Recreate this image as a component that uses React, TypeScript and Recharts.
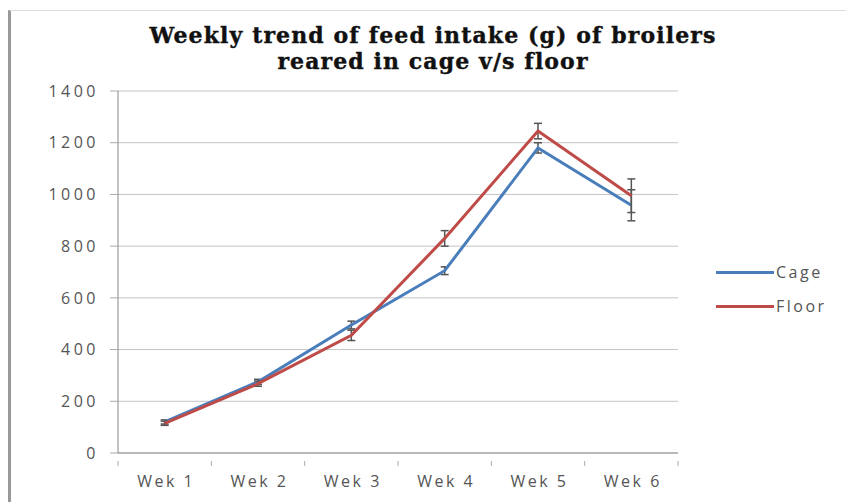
import React from 'react';
import { LineChart, Line, XAxis, YAxis, CartesianGrid, ErrorBar } from 'recharts';

const weeks = ['Wek 1', 'Wek 2', 'Wek 3', 'Wek 4', 'Wek 5', 'Wek 6'];
const cage = [120, 275, 495, 705, 1180, 958];
const floor = [115, 268, 455, 830, 1245, 995];
const cageErr = [8, 10, 15, 15, 20, 60];
const floorErr = [8, 10, 20, 30, 30, 65];
const yTicks = [0, 200, 400, 600, 800, 1000, 1200, 1400];

const data = weeks.map((w, i) => ({
  name: w,
  cage: cage[i],
  floor: floor[i],
  cageErr: cageErr[i],
  floorErr: floorErr[i],
}));

const W = 846;
const H = 502;
const PLOT_LEFT = 118;
const PLOT_RIGHT = 678;
const band = (PLOT_RIGHT - PLOT_LEFT) / weeks.length;

const tickFont = '"Open Sans", "Liberation Sans", sans-serif';

// excel-style category tick: label at the centre, marks at band edges
const XTick = (props: any) => {
  const { x, y, payload, index } = props;
  return (
    <g>
      {index === 0 && <line x1={x - band / 2} x2={x - band / 2} y1={y} y2={y + 5} stroke="#aaa" />}
      <line x1={x + band / 2} x2={x + band / 2} y1={y} y2={y + 5} stroke="#aaa" />
      <text
        x={x + 1.5}
        y={y + 26}
        textAnchor="middle"
        fontSize={16}
        fill="#555"
        fontFamily={tickFont}
        style={{ letterSpacing: 2.5 }}
      >
        {payload.value}
      </text>
    </g>
  );
};

const legendItems = [
  { label: 'Cage', color: '#4A7EBB' },
  { label: 'Floor', color: '#BE4B48' },
];

export default function App() {
  return (
    <div style={{ position: 'absolute', left: 0, top: 0, width: W, height: H, background: '#fff', overflow: 'hidden' }}>
      <div style={{ position: 'absolute', left: 8, top: 10, width: W, height: H, borderLeft: '3px solid #999', borderTop: '1px solid #ddd' }} />
      <div
        style={{
          position: 'absolute',
          left: 0,
          top: 22,
          width: 866,
          textAlign: 'center',
          fontFamily: '"DejaVu Serif", "Liberation Serif", serif',
          fontWeight: 700,
          fontSize: 22,
          lineHeight: '26px',
          letterSpacing: 1.1,
          WebkitTextStroke: '0.4px #111',
          color: '#111',
        }}
      >
        Weekly trend of feed intake (g) of broilers
        <br />
        reared in cage v/s floor
      </div>
      <div style={{ position: 'absolute', left: 0, top: 0 }}>
        <LineChart width={W} height={H} data={data} margin={{ top: 91, right: W - PLOT_RIGHT, bottom: 0, left: 0 }}>
          <CartesianGrid stroke="#c4c4c4" vertical={false} />
          <XAxis
            dataKey="name"
            height={H - 453}
            axisLine={{ stroke: '#aaa', strokeWidth: 1.5 }}
            tickLine={false}
            tick={<XTick />}
            interval={0}
            padding={{ left: band / 2, right: band / 2 }}
          />
          <YAxis
            width={PLOT_LEFT}
            domain={[0, 1400]}
            ticks={yTicks}
            axisLine={{ stroke: '#888' }}
            tickLine={{ stroke: '#aaa' }}
            tickSize={8}
            tickMargin={11}
            tick={{ fontSize: 16, fill: '#555', fontFamily: tickFont, style: { letterSpacing: 3.5 } }}
          />
          <Line type="linear" dataKey="cage" name="Cage" stroke="#4A7EBB" strokeWidth={3} dot={false} isAnimationActive={false}>
            <ErrorBar dataKey="cageErr" width={4} stroke="#555" strokeWidth={1.5} />
          </Line>
          <Line type="linear" dataKey="floor" name="Floor" stroke="#BE4B48" strokeWidth={3} dot={false} isAnimationActive={false}>
            <ErrorBar dataKey="floorErr" width={4} stroke="#555" strokeWidth={1.5} />
          </Line>
        </LineChart>
      </div>
      <div style={{ position: 'absolute', left: 716, top: 255, fontFamily: tickFont, fontSize: 16, letterSpacing: 2.5, color: '#555' }}>
        {legendItems.map((s) => (
          <div key={s.label} style={{ display: 'flex', alignItems: 'center', height: 34 }}>
            <div style={{ width: 58, height: 3, background: s.color }} />
            <span style={{ marginLeft: 2 }}>{s.label}</span>
          </div>
        ))}
      </div>
    </div>
  );
}
